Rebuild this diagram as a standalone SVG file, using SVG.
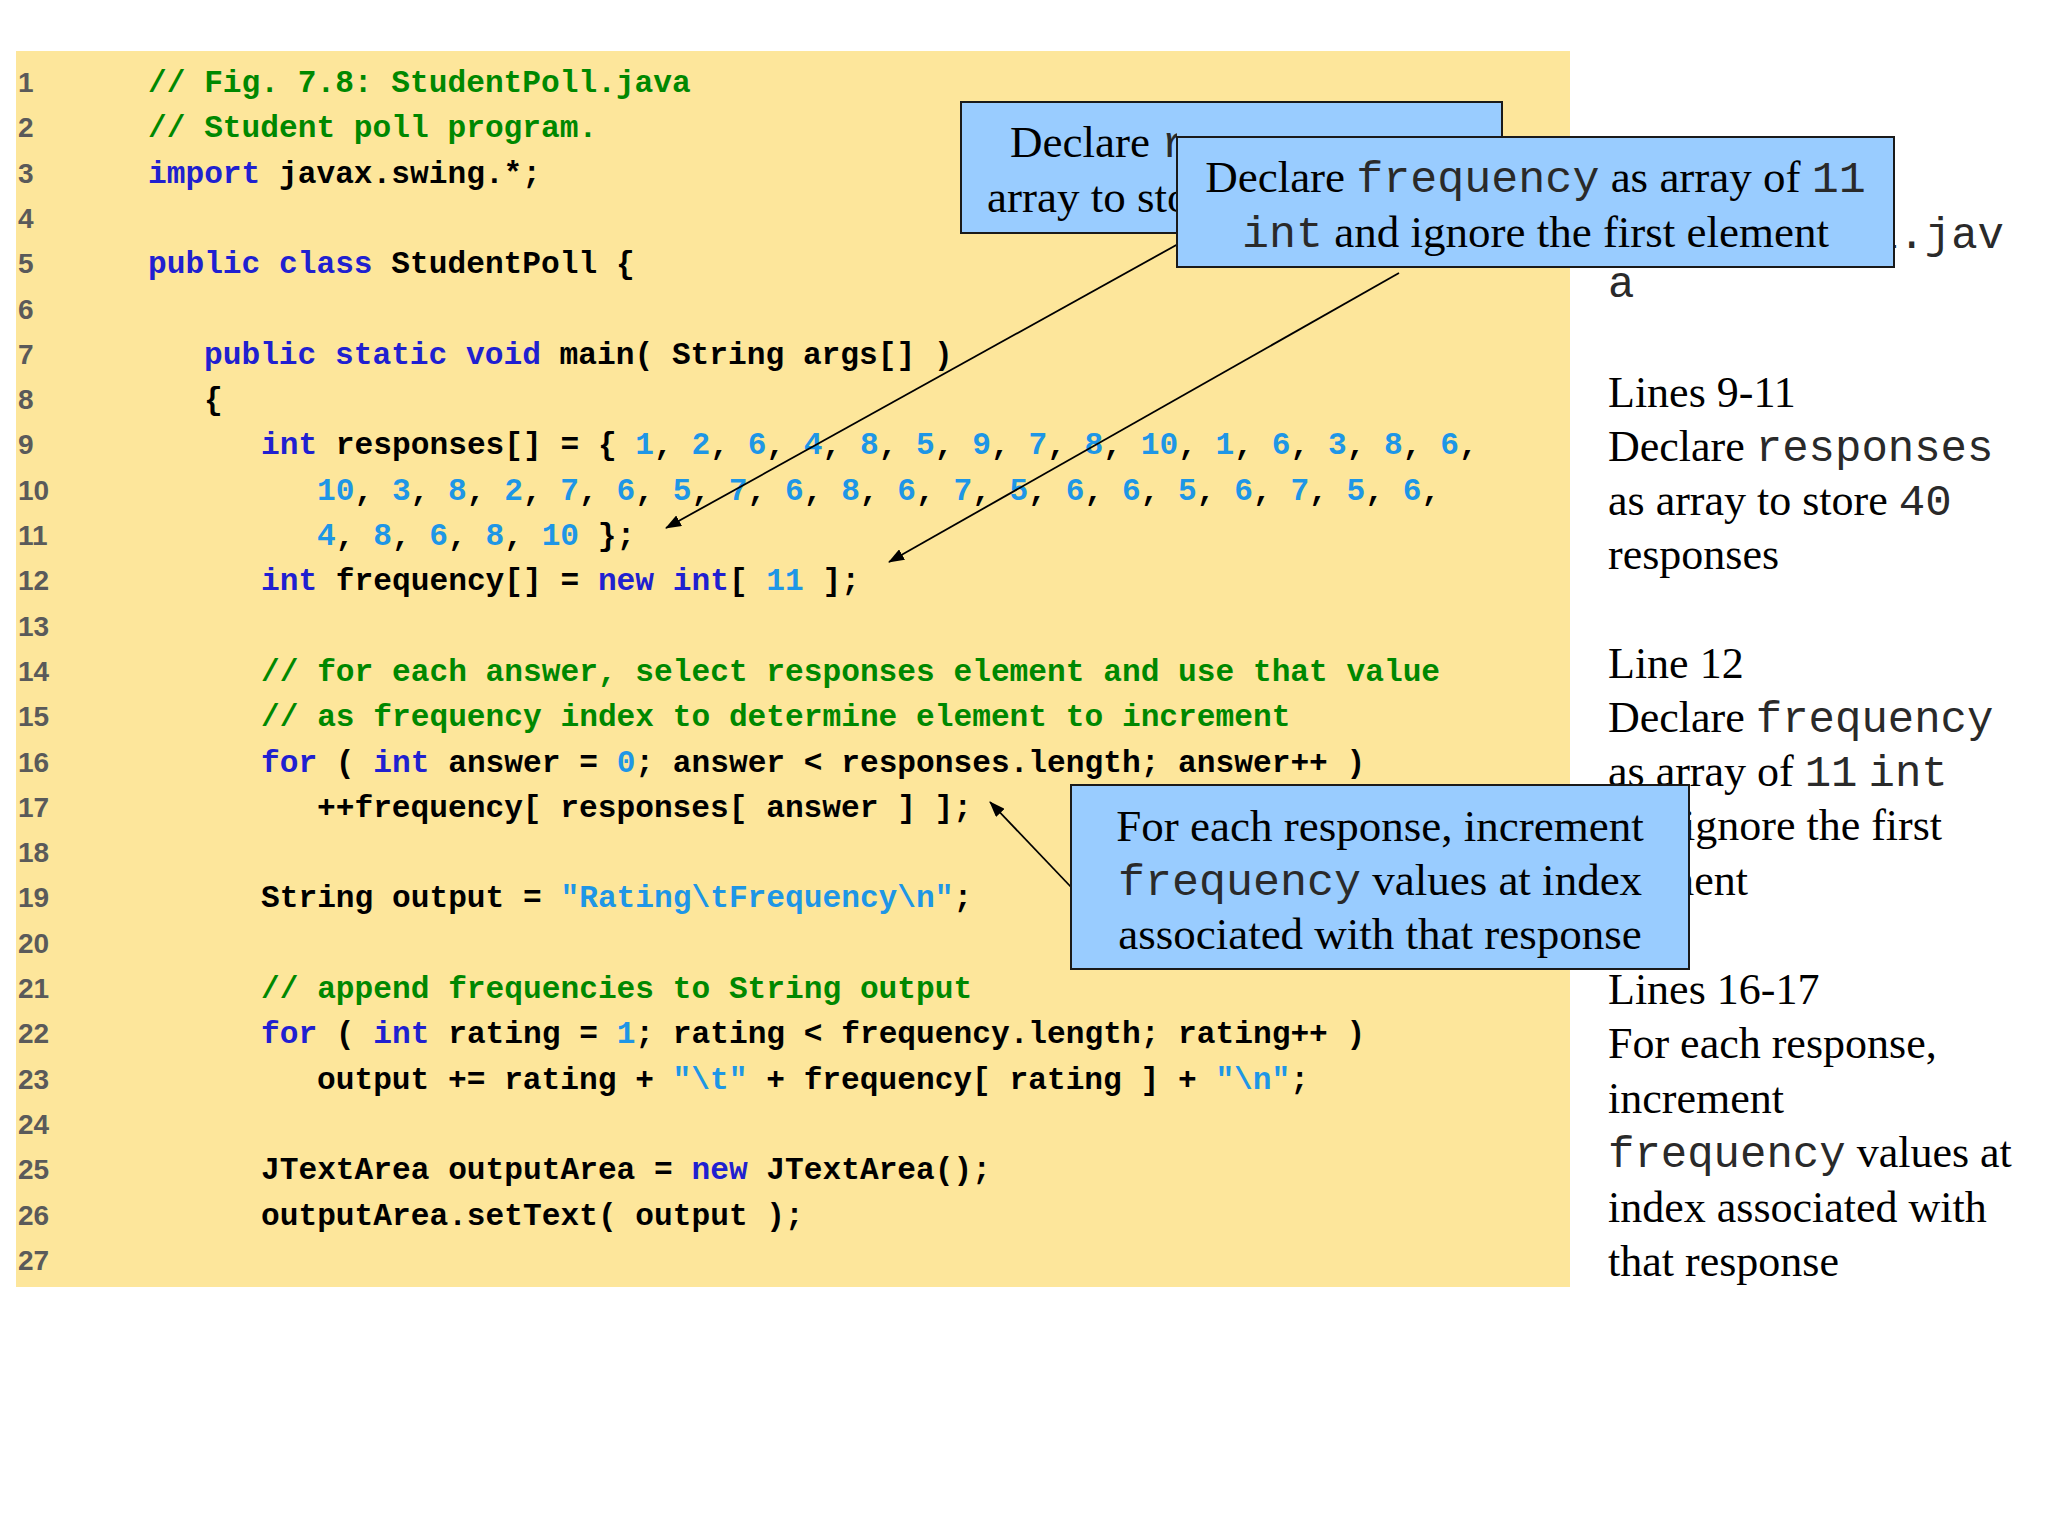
<svg xmlns="http://www.w3.org/2000/svg" width="2048" height="1536" viewBox="0 0 2048 1536">
<style>
.ln{font-family:"Liberation Sans",Arial,sans-serif;font-weight:bold;font-size:28px;fill:#5a5a5a}
.code{font-family:"Liberation Mono","Courier New",monospace;font-weight:bold;font-size:31.2px;fill:#000}
.kw{fill:#2020d0}
.cm{fill:#008800}
.lit{fill:#1e96e6}
.tr{font-family:"Liberation Serif","Times New Roman",serif;fill:#000}
.mono{font-family:"Liberation Mono","Courier New",monospace;font-weight:normal;fill:#2a2a2a}
.call{font-size:45px}
.side{font-size:44px}
.box{fill:#99ccff;stroke:#1a1a1a;stroke-width:2}
.conn{stroke:#000;stroke-width:1.8;fill:none}
</style>
<defs>
<marker id="ah" viewBox="0 0 16 12" refX="15" refY="6" markerWidth="16" markerHeight="12" markerUnits="userSpaceOnUse" orient="auto">
<path d="M0,0 L16,6 L0,12 z" fill="#000"/>
</marker>
<clipPath id="leftOfBox2"><rect x="0" y="0" width="1177" height="1536"/></clipPath>
</defs>
<rect x="0" y="0" width="2048" height="1536" fill="#fff"/>
<rect id="panel" x="16" y="51" width="1554" height="1236" fill="#fde69b"/>

<g id="linenumbers" class="ln">
<text x="18" y="92">1</text>
<text x="18" y="137.3">2</text>
<text x="18" y="182.6">3</text>
<text x="18" y="227.9">4</text>
<text x="18" y="273.2">5</text>
<text x="18" y="318.5">6</text>
<text x="18" y="363.8">7</text>
<text x="18" y="409.1">8</text>
<text x="18" y="454.4">9</text>
<text x="18" y="499.7">10</text>
<text x="18" y="545">11</text>
<text x="18" y="590.3">12</text>
<text x="18" y="635.6">13</text>
<text x="18" y="680.9">14</text>
<text x="18" y="726.2">15</text>
<text x="18" y="771.5">16</text>
<text x="18" y="816.8">17</text>
<text x="18" y="862.1">18</text>
<text x="18" y="907.4">19</text>
<text x="18" y="952.7">20</text>
<text x="18" y="998">21</text>
<text x="18" y="1043.3">22</text>
<text x="18" y="1088.6">23</text>
<text x="18" y="1133.9">24</text>
<text x="18" y="1179.2">25</text>
<text x="18" y="1224.5">26</text>
<text x="18" y="1269.8">27</text>
</g>

<g id="code" class="code" xml:space="preserve">
<text x="148" y="92"><tspan class="cm">// Fig. 7.8: StudentPoll.java</tspan></text>
<text x="148" y="137.3"><tspan class="cm">// Student poll program.</tspan></text>
<text x="148" y="182.6"><tspan class="kw">import</tspan> javax.swing.*;</text>
<text x="148" y="273.2"><tspan class="kw">public class</tspan> StudentPoll {</text>
<text x="204" y="363.8"><tspan class="kw">public static void</tspan> main( String args[] )</text>
<text x="204" y="409.1">{</text>
<text x="261" y="454.4"><tspan class="kw">int</tspan> responses[] = { <tspan class="lit">1</tspan>, <tspan class="lit">2</tspan>, <tspan class="lit">6</tspan>, <tspan class="lit">4</tspan>, <tspan class="lit">8</tspan>, <tspan class="lit">5</tspan>, <tspan class="lit">9</tspan>, <tspan class="lit">7</tspan>, <tspan class="lit">8</tspan>, <tspan class="lit">10</tspan>, <tspan class="lit">1</tspan>, <tspan class="lit">6</tspan>, <tspan class="lit">3</tspan>, <tspan class="lit">8</tspan>, <tspan class="lit">6</tspan>,</text>
<text x="317" y="499.7"><tspan class="lit">10</tspan>, <tspan class="lit">3</tspan>, <tspan class="lit">8</tspan>, <tspan class="lit">2</tspan>, <tspan class="lit">7</tspan>, <tspan class="lit">6</tspan>, <tspan class="lit">5</tspan>, <tspan class="lit">7</tspan>, <tspan class="lit">6</tspan>, <tspan class="lit">8</tspan>, <tspan class="lit">6</tspan>, <tspan class="lit">7</tspan>, <tspan class="lit">5</tspan>, <tspan class="lit">6</tspan>, <tspan class="lit">6</tspan>, <tspan class="lit">5</tspan>, <tspan class="lit">6</tspan>, <tspan class="lit">7</tspan>, <tspan class="lit">5</tspan>, <tspan class="lit">6</tspan>,</text>
<text x="317" y="545"><tspan class="lit">4</tspan>, <tspan class="lit">8</tspan>, <tspan class="lit">6</tspan>, <tspan class="lit">8</tspan>, <tspan class="lit">10</tspan> };</text>
<text x="261" y="590.3"><tspan class="kw">int</tspan> frequency[] = <tspan class="kw">new int</tspan>[ <tspan class="lit">11</tspan> ];</text>
<text x="261" y="680.9"><tspan class="cm">// for each answer, select responses element and use that value</tspan></text>
<text x="261" y="726.2"><tspan class="cm">// as frequency index to determine element to increment</tspan></text>
<text x="261" y="771.5"><tspan class="kw">for</tspan> ( <tspan class="kw">int</tspan> answer = <tspan class="lit">0</tspan>; answer &lt; responses.length; answer++ )</text>
<text x="317" y="816.8">++frequency[ responses[ answer ] ];</text>
<text x="261" y="907.4">String output = <tspan class="lit">"Rating\tFrequency\n"</tspan>;</text>
<text x="261" y="998"><tspan class="cm">// append frequencies to String output</tspan></text>
<text x="261" y="1043.3"><tspan class="kw">for</tspan> ( <tspan class="kw">int</tspan> rating = <tspan class="lit">1</tspan>; rating &lt; frequency.length; rating++ )</text>
<text x="317" y="1088.6">output += rating + <tspan class="lit">"\t"</tspan> + frequency[ rating ] + <tspan class="lit">"\n"</tspan>;</text>
<text x="261" y="1179.2">JTextArea outputArea = <tspan class="kw">new</tspan> JTextArea();</text>
<text x="261" y="1224.5">outputArea.setText( output );</text>
</g>

<g id="sidebar" class="tr side" xml:space="preserve">
<text x="1872" y="248" class="mono">l.jav</text>
<text x="1608" y="297" class="mono">a</text>
<text x="1608" y="407">Lines 9-11</text>
<text x="1608" y="461">Declare <tspan class="mono">responses</tspan></text>
<text x="1608" y="515">as array to store <tspan class="mono">40</tspan></text>
<text x="1608" y="569">responses</text>
<text x="1608" y="678">Line 12</text>
<text x="1608" y="732">Declare <tspan class="mono">frequency</tspan></text>
<text x="1608" y="786">as array of <tspan class="mono">11</tspan> <tspan class="mono">int</tspan></text>
<text x="1683" y="840">ignore the first</text>
<text x="1660" y="895">ment</text>
<text x="1608" y="1004">Lines 16-17</text>
<text x="1608" y="1058">For each response,</text>
<text x="1608" y="1113">increment</text>
<text x="1608" y="1167"><tspan class="mono">frequency</tspan> values at</text>
<text x="1608" y="1222">index associated with</text>
<text x="1608" y="1276">that response</text>
</g>

<g id="connectors">
<line class="conn" x1="1198" y1="233" x2="666" y2="528" marker-end="url(#ah)"/>
<line class="conn" x1="1399" y1="273" x2="889" y2="562" marker-end="url(#ah)"/>
<line class="conn" x1="1071" y1="887" x2="990" y2="802" marker-end="url(#ah)"/>
</g>

<g id="callout-responses">
<rect class="box" x="961" y="102" width="541" height="131"/>
<g clip-path="url(#leftOfBox2)">
<text class="tr call" x="1010" y="157" xml:space="preserve">Declare <tspan class="mono">r</tspan></text>
<text class="tr call" x="987" y="212" xml:space="preserve">array to sto</text>
</g>
</g>

<g id="callout-frequency">
<rect class="box" x="1177" y="137" width="717" height="130"/>
<text class="tr call" x="1535.5" y="192" text-anchor="middle" xml:space="preserve">Declare <tspan class="mono">frequency</tspan> as array of <tspan class="mono">11</tspan></text>
<text class="tr call" x="1535.5" y="247" text-anchor="middle" xml:space="preserve"><tspan class="mono">int</tspan> and ignore the first element</text>
</g>

<g id="callout-increment">
<rect class="box" x="1071" y="785" width="618" height="184"/>
<text class="tr call" x="1380" y="841" text-anchor="middle" xml:space="preserve">For each response, increment</text>
<text class="tr call" x="1380" y="895" text-anchor="middle" xml:space="preserve"><tspan class="mono">frequency</tspan> values at index</text>
<text class="tr call" x="1380" y="949" text-anchor="middle" xml:space="preserve">associated with that response</text>
</g>
</svg>
